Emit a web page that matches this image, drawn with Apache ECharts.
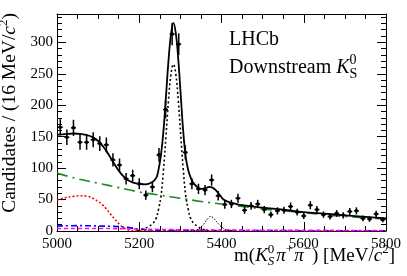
<!DOCTYPE html>
<html><head><meta charset="utf-8">
<script src="https://cdn.jsdelivr.net/npm/echarts@6/dist/echarts.min.js"></script>
<style>html,body{margin:0;padding:0;background:#fff}#c{width:407px;height:276px}</style>
</head><body><div id="c"></div>
<script>
// ---- data ----
const binCenters = [5008,5024,5040,5056,5072,5088,5104,5120,5136,5152,5168,5184,5200,5216,5232,5248,5264,5280,5296,5312,5328,5344,5360,5376,5392,5408,5424,5440,5456,5472,5488,5504,5520,5536,5552,5568,5584,5600,5616,5632,5648,5664,5680,5696,5712,5728,5744,5760,5776,5792];
const counts = [165,149,164,141,141,145,139,137,113,105,83,88,75,57,70,121,193,313,297,125,75,67,65,81,56,42,43,52,33,40,43,34,26,32,33,39,30,24,41,34,26,23,28,25,31,32,20,19,27,18];
const countErrors = [12.8,12.2,12.8,11.9,11.9,12,11.8,11.7,10.6,10.2,9.1,9.4,8.7,7.5,8.4,11,13.9,17.7,17.2,11.2,8.7,8.2,8.1,9,7.5,6.5,6.6,7.2,5.7,6.3,6.6,5.8,5.1,5.7,5.7,6.2,5.5,4.9,6.4,5.8,5.1,4.8,5.3,5,5.6,5.7,4.5,4.4,5.2,4.2];

const totalMass  = [5000,5020,5040,5060,5080,5095,5110,5120,5130,5140,5150,5160,5170,5185,5200,5215,5230,5241,5247,5253,5259,5265,5271,5277,5283,5289,5295,5301,5307,5313,5319,5325,5331,5341,5351,5362,5370,5378,5386,5395,5405,5418,5430,5450,5500,5550,5600,5650,5700,5750,5800];
const totalValue = [153,154,155,154,151,146,136,127,117,106,96,88,82,77,75,74,77,84,98,122,160,214,270,312,331,314,272,215,158,118,97,85,77,70,67,68,70,69,65,58,50,46,44,41,37,34,30,27.5,25,22.5,20];

const signalMass  = [5195,5210,5222,5233,5241,5247,5253,5259,5265,5271,5277,5283,5289,5295,5301,5307,5313,5319,5325,5333,5343,5353,5368];
const signalValue = [0.5,3,7,12,20,35,56,98,151,207,249,265,249,207,151,98,56,35,20,12,7,3,0.5];

const bumpMass  = [5325,5340,5350,5358,5366,5373,5380,5388,5396,5405,5415,5432];
const bumpValue = [0,2,6,12,19,23,21,15,9,4,1,0];

const combMass  = [5000,5050,5100,5150,5200,5250,5300,5350,5400,5450,5500,5550,5600,5650,5700,5750,5800];
const combValue = [92,83,76,69,62,57,52,47,43,39,35,32,29,26,23,21,19];

const partRecoMass  = [5000,5020,5040,5056,5075,5090,5100,5110,5120,5130,5140,5150,5160,5170,5180,5200,5300,5500,5800];
const partRecoValue = [49,53,55,56,55,51,47,42,35,27,19,12,6,2.5,0.8,0.3,0.3,0.3,0.3];

const blueMass  = [5000,5050,5100,5150,5180,5200,5230,5300,5400,5600,5800];
const blueValue = [8,8.5,8,7,5,3,1.5,1,0.8,0.5,0.3];

const magentaMass  = [5000,5100,5200,5300,5400,5500,5600,5800];
const magentaValue = [4,4,3,2,1.5,1.2,1,0.8];

const xMajorTicks = [5000,5200,5400,5600,5800];
const yMajorTicks = [0,50,100,150,200,250,300];

// ---- drawing ----
const SERIF = '"Liberation Serif","DejaVu Serif",serif';
const ctx = document.createElement('canvas').getContext('2d');
function textW(t, f){ ctx.font = f; return ctx.measureText(t).width; }
function layout(pieces, x0, base, align){
  let x = 0, prevX = 0; const out = [];
  for (const p of pieces){
    const font = (p.italic ? 'italic ' : '') + p.size + 'px ' + SERIF;
    const wd = textW(p.t, font);
    let px;
    if (p.stack){ px = prevX; x = Math.max(x, prevX + wd); }
    else { px = x; x += wd; prevX = px; }
    x += (p.gap || 0);
    out.push({px, font, t: p.t, dy: p.dy || 0, size: p.size});
  }
  const start = align === 'right' ? x0 - x : x0;
  return out.map(o => ({type:'text', x: start + o.px, y: base + o.dy - 0.33*o.size,
    style:{text:o.t, font:o.font, fill:'#000', textAlign:'left', textVerticalAlign:'middle'}}));
}
function pairs(ms, vs){ return ms.map((m,i)=>[m, vs[i]]); }

const yTitle = layout([
  {t:'Candidates / (16 MeV/', size:19.5},
  {t:'c', size:19.5, italic:true},
  {t:'2', size:13, dy:-8},
  {t:')', size:19.5}
], 0, 0, 'right');
const xTitle = layout([
  {t:'m(', size:19},
  {t:'K', size:19, italic:true},
  {t:'0', size:13, dy:-8},
  {t:'S', size:13, dy:4, stack:true, italic:true, gap:2},
  {t:'\u03c0', size:19, italic:true},
  {t:'+', size:13, dy:-8, gap:1},
  {t:'\u03c0', size:19, italic:true},
  {t:'\u2212', size:13, dy:-8, gap:1},
  {t:') [MeV/', size:19},
  {t:'c', size:19, italic:true},
  {t:'2', size:13, dy:-8},
  {t:']', size:19}
], 395, 262, 'right');
const lhcb = layout([{t:'LHCb', size:20}], 229, 46, 'left');
const downstream = layout([
  {t:'Downstream ', size:20},
  {t:'K', size:20, italic:true},
  {t:'0', size:14, dy:-9},
  {t:'S', size:14, dy:5, stack:true}
], 229, 74, 'left');

const axisCommon = {
  type:'value', min:5000, max:5800, interval:200,
  axisLine:{show:true, onZero:false, lineStyle:{color:'#000', width:1}},
  axisTick:{show:true, inside:true, length:9, lineStyle:{color:'#000', width:1}},
  minorTick:{show:true, splitNumber:4, length:5, lineStyle:{color:'#000', width:1}},
  splitLine:{show:false}, minorSplitLine:{show:false}
};
function yAx(pos, major, labels){
  return {
    type:'value', min:0, max:345, interval: major ? 50 : 10, position:pos,
    axisLine:{show: major, onZero:false, lineStyle:{color:'#000', width:1}},
    axisTick:{show:true, inside:true, length: major ? 9 : 5, lineStyle:{color:'#000', width:1}},
    axisLabel:{show: labels, margin:4, fontSize:15, fontFamily:SERIF, color:'#000',
      formatter: v => (yMajorTicks.indexOf(v) >= 0 ? String(v) : '')},
    splitLine:{show:false}
  };
}

function lineSeries(name, ms, vs, color, width, type, z){
  return {name, type:'line', data: pairs(ms, vs), smooth:0.4, symbol:'none', showSymbol:false,
    lineStyle:{color, width, type}, z: z || 2, clip:true, silent:true};
}

const option = {
  animation:false,
  backgroundColor:'#fff',
  grid:{left:57, right:21, top:14, bottom:45, containLabel:false},
  xAxis:[
    Object.assign({}, axisCommon, {position:'bottom',
      axisLabel:{show:true, margin:6, fontSize:15, fontFamily:SERIF, color:'#000',
        formatter: v => (xMajorTicks.indexOf(v) >= 0 ? String(v) : '')}}),
    Object.assign({}, axisCommon, {position:'top', axisLabel:{show:false}})
  ],
  yAxis:[ yAx('left', true, true), yAx('left', false, false), yAx('right', true, false), yAx('right', false, false) ],
  series:[
    lineSeries('comb', combMass, combValue, '#1f8a1f', 1.6, [11,5,2,5]),
    lineSeries('partreco', partRecoMass, partRecoValue, '#ff0000', 1.6, [2,2]),
    lineSeries('blue', blueMass, blueValue, '#0000ff', 1.6, [6,3,2,3]),
    lineSeries('magenta', magentaMass, magentaValue, '#ff00ff', 1.6, [4,3]),
    lineSeries('bump', bumpMass, bumpValue, '#000', 1, [1.5,1.5]),
    lineSeries('signal', signalMass, signalValue, '#000', 1.6, [2,2.5]),
    {
      type:'custom', z:4, clip:true, silent:true,
      data: binCenters.map((m,i)=>[m, counts[i], countErrors[i]]),
      encode:{x:0, y:1},
      renderItem(params, api){
        const m = api.value(0), v = api.value(1), e = api.value(2);
        const c = api.coord([m, v]);
        const t = api.coord([m, v + e]);
        const b = api.coord([m, v - e]);
        const l = api.coord([m - 6, v]);
        const r = api.coord([m + 6, v]);
        const st = {stroke:'#000', lineWidth:1.5};
        return {type:'group', children:[
          {type:'line', shape:{x1:c[0], y1:t[1], x2:c[0], y2:b[1]}, style:st},
          {type:'line', shape:{x1:l[0], y1:c[1], x2:r[0], y2:c[1]}, style:st},
          {type:'circle', shape:{cx:c[0], cy:c[1], r:1.8}, style:{fill:'#000'}}
        ]};
      }
    },
    lineSeries('total', totalMass, totalValue, '#000', 1.8, 'solid', 5)
  ],
  graphic:[
    {type:'group', x:16, y:13, rotation:Math.PI/2, children: yTitle},
    ...xTitle, ...lhcb, ...downstream
  ]
};
const chart = echarts.init(document.getElementById('c'), null, {renderer:'canvas'});
chart.setOption(option);
</script></body></html>
